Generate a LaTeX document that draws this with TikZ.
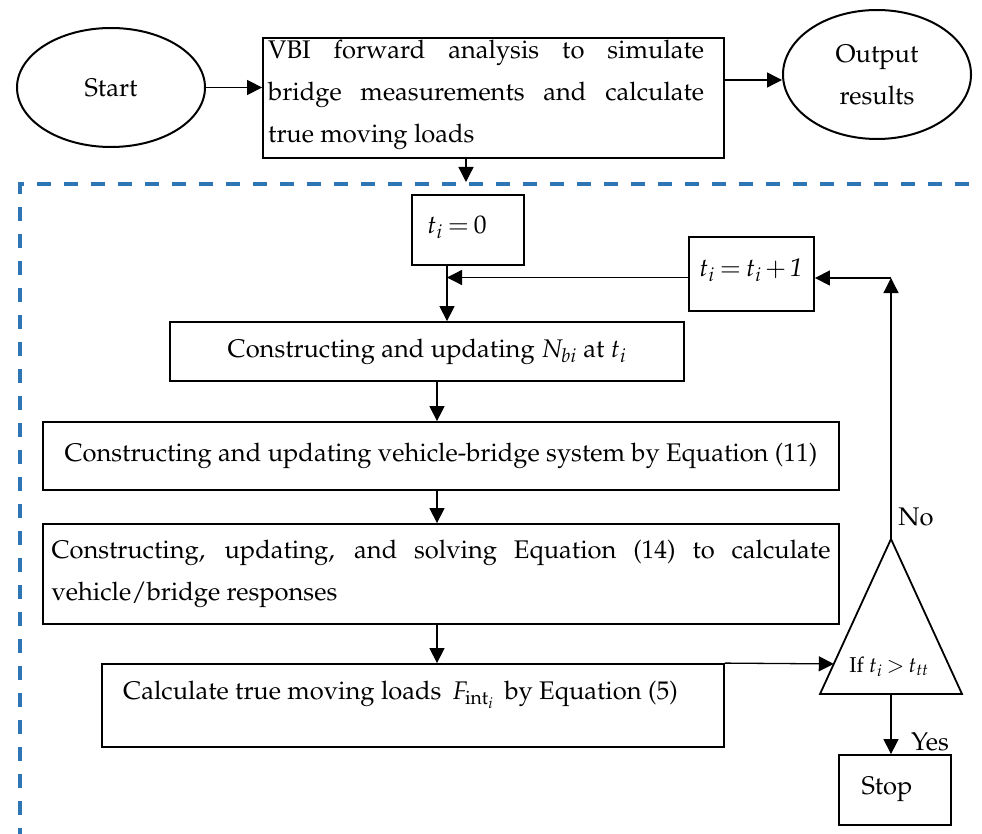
\documentclass[tikz,border=0pt]{standalone}
\usepackage[T1]{fontenc}
\usepackage{mathpazo}
\usetikzlibrary{shapes.geometric,arrows.meta,calc}
\definecolor{frameblue}{HTML}{2E75B6}
\newcommand{\tightmath}{\thickmuskip=3.5mu\medmuskip=2.5mu}
\begin{document}
\begin{tikzpicture}[x=1pt,y=-1pt,
  every node/.style={font=\fontsize{25.5}{42}\selectfont\tightmath, inner sep=0pt},
  box/.style={draw, line width=1.8pt, rectangle},
  oval/.style={draw, line width=2pt, ellipse},
  arr/.style={line width=1.3pt, -{Triangle[length=15pt,width=15pt]}},
  loopframe/.style={draw=frameblue, line width=4pt, dash pattern=on 14pt off 13pt},
]
\useasboundingbox (0,0) rectangle (982,834);

% dashed frame around the time-stepping loop
\draw[loopframe] (20,842) -- (20,184) -- (990,184);

% top row
\node[oval, minimum width=188, minimum height=119] (start) at (111,87.5) {Start};
\node[box, minimum width=461, minimum height=120] (top) at (493.5,98) {};
\node[anchor=west, text width=436pt, align=justify] (top-text) at (268,95)
  {VBI forward analysis to simulate\linebreak bridge measurements and calculate\linebreak true moving loads};
\node[oval, minimum width=188, minimum height=129, align=center] (out) at (877,74.5) {Output\\results};

% loop initialisation and increment
\node[box, minimum width=112, minimum height=70] (tzero) at (468,230) {};
\node (tzero-text) at (457,227) {$t_i = 0$};
\node[box, minimum width=125, minimum height=74] (tinc) at (751.5,274) {};
\node (tinc-text) at (751,270) {$t_i = t_i + \mathit{1}$};

% main steps
\node[box, minimum width=514, minimum height=59] (nbi) at (427,351.5)
  {Constructing and updating $N_{bi}$ at $t_i$};
\node[box, minimum width=796, minimum height=68] (veh) at (441,456)
  {Constructing and updating vehicle-bridge system by Equation (11)};
\node[box, minimum width=796, minimum height=100, text width=779pt, align=justify] (solve) at (441,574)
  {Constructing, updating, and solving Equation (14) to calculate\linebreak vehicle/bridge responses};
\node[box, minimum width=622, minimum height=83] (calc) at (413,705.5) {};
\node[anchor=west] (calc-text) at (123,695)
  {Calculate true moving loads\, $F_{\mathrm{int}_i}$\, by Equation (5)};

% decision triangle
\coordinate (apex) at (891,539);
\coordinate (tri-bl) at (820,694);
\coordinate (tri-br) at (962,694);
\coordinate (tri-base) at (891,694);
\draw[line width=1.8pt] (apex) -- (tri-br) -- (tri-bl) -- cycle;
\node[font=\fontsize{21.5}{24}\selectfont\tightmath] (cond) at (889,667) {If $t_i > t_{tt}$};

\node[box, minimum width=112, minimum height=70] (stop) at (895,790) {};
\node (stop-text) at (887,789) {Stop};
\node (no) at (916,517) {No};
\node (yes) at (930,742) {Yes};

% connectors
\draw[arr] (start.east) -- (start.east -| top.west);
\draw[arr] ([yshift=18pt]top.east) -- ([yshift=-5.5pt]out.west);
\coordinate (drop) at (466,182);
\draw[arr] (top.south -| drop) -- (drop);

\coordinate (join) at (447,277.5);
\draw[arr] (tzero.south -| join) -- (nbi.north -| join);
\draw[arr] (tinc.west |- join) -- (join);

\coordinate (spine) at (437,0);
\draw[arr] (nbi.south -| spine) -- (veh.north -| spine);
\draw[arr] (veh.south -| spine) -- (solve.north -| spine);
\draw[arr] (solve.south -| spine) -- (calc.north -| spine);

\coordinate (tri-in) at ($(apex)!0.806!(tri-bl)$);
\draw[arr] (calc.north east) -- (tri-in);

\coordinate (corner) at (891,278);
\draw[arr] (apex) -- (corner);
\draw[arr] (corner) -- (tinc.east |- corner);
\draw[arr] (tri-base) -- (stop.north -| tri-base);
\end{tikzpicture}
\end{document}
